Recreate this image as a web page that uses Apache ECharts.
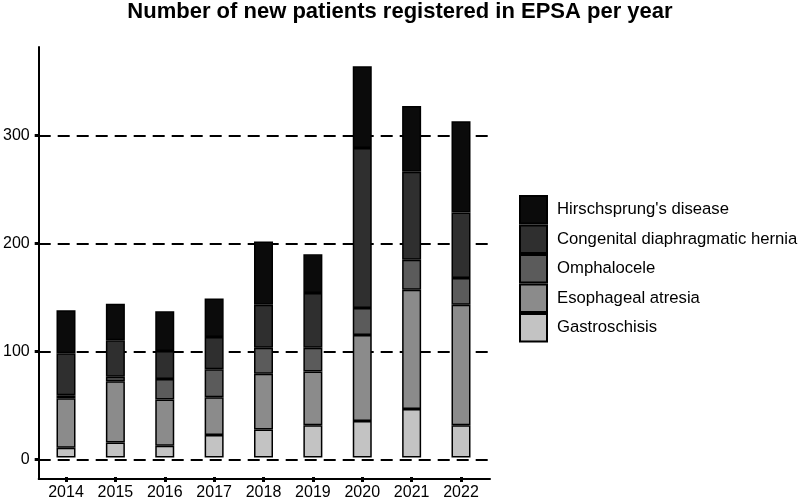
<!DOCTYPE html>
<html><head><meta charset="utf-8">
<script src="https://cdn.jsdelivr.net/npm/echarts@6/dist/echarts.min.js"></script>
<style>html,body{margin:0;padding:0;background:#fff}#c{width:800px;height:501px}</style>
</head><body><div id="c"></div>
<script>
const years = ['2014','2015','2016','2017','2018','2019','2020','2021','2022'];
const gastroschisis = [9, 14, 11, 21, 26, 30, 34, 45, 30];
const esophagealAtresia = [46, 57, 43, 35, 52, 50, 80, 111, 112];
const omphalocele = [3, 4, 19, 26, 24, 22, 25, 28, 25];
const cdh = [39, 34, 26, 30, 40, 51, 149, 82, 61];
const hirschsprung = [40, 34, 37, 36, 59, 36, 76, 61, 85];
const yTicks = [0, 100, 200, 300];
const yMin = -18.2, yMax = 382;

const font = '"Liberation Sans", Arial, sans-serif';
function s(name, data, color) {
  return { name, type: 'bar', stack: 't', data, barWidth: 19, xAxisIndex: 0, yAxisIndex: 0, z: 5,
    itemStyle: { color, borderColor: '#000', borderWidth: 1.5 } };
}
const chart = echarts.init(document.getElementById('c'), null, {renderer: 'canvas'});
chart.setOption({
  animation: false,
  title: { text: 'Number of new patients registered in EPSA per year', left: 'center', top: 1, padding: 0,
    textStyle: { fontFamily: font, fontSize: 22, fontWeight: 'bold', color: '#000' } },
  grid: [
    { left: 66, right: 339, top: 47, bottom: 22 },
    { left: 37, right: 310, top: 47, bottom: 22 }
  ],
  legend: { orient: 'vertical', left: 519, top: 195, padding: 0, itemWidth: 27, itemHeight: 27.5, itemGap: 0, icon: 'rect',
    data: ['Hirschsprung\'s disease', 'Congenital diaphragmatic hernia', 'Omphalocele', 'Esophageal atresia', 'Gastroschisis'],
    textStyle: { fontFamily: font, fontSize: 16.7, color: '#000', padding: [0,0,0,5] } },
  xAxis: [
    { type: 'category', gridIndex: 0, data: years, boundaryGap: false,
      axisLine: { show: false, onZero: false },
      axisTick: { show: true, length: 5, lineStyle: { color: '#000', width: 3 } },
      axisLabel: { fontFamily: font, fontSize: 16, color: '#000', margin: 8 },
      splitLine: { show: false } },
    { type: 'value', gridIndex: 1, min: 0, max: 1,
      axisLine: { show: true, onZero: false, lineStyle: { color: '#000', width: 2 } },
      axisTick: { show: false }, axisLabel: { show: false }, splitLine: { show: false } }
  ],
  yAxis: [
    { type: 'value', gridIndex: 0, min: yMin, max: yMax, show: false, splitLine: { show: false } },
    { type: 'value', gridIndex: 1, min: yMin, max: yMax,
      axisLine: { show: true, onZero: false, lineStyle: { color: '#000', width: 2 } },
      axisTick: { show: true, length: 4, customValues: yTicks, lineStyle: { color: '#000', width: 3 } },
      axisLabel: { fontFamily: font, fontSize: 16, color: '#000', margin: 9, customValues: yTicks },
      splitLine: { show: true, showMinLine: true, showMaxLine: true, lineStyle: { color: '#000', width: 2, type: [12, 7] } } }
  ],
  series: [
    s('Gastroschisis', gastroschisis, '#c3c3c3'),
    s('Esophageal atresia', esophagealAtresia, '#8b8b8b'),
    s('Omphalocele', omphalocele, '#5b5b5b'),
    s('Congenital diaphragmatic hernia', cdh, '#2f2f2f'),
    s('Hirschsprung\'s disease', hirschsprung, '#0b0b0b')
  ]
});
</script></body></html>
